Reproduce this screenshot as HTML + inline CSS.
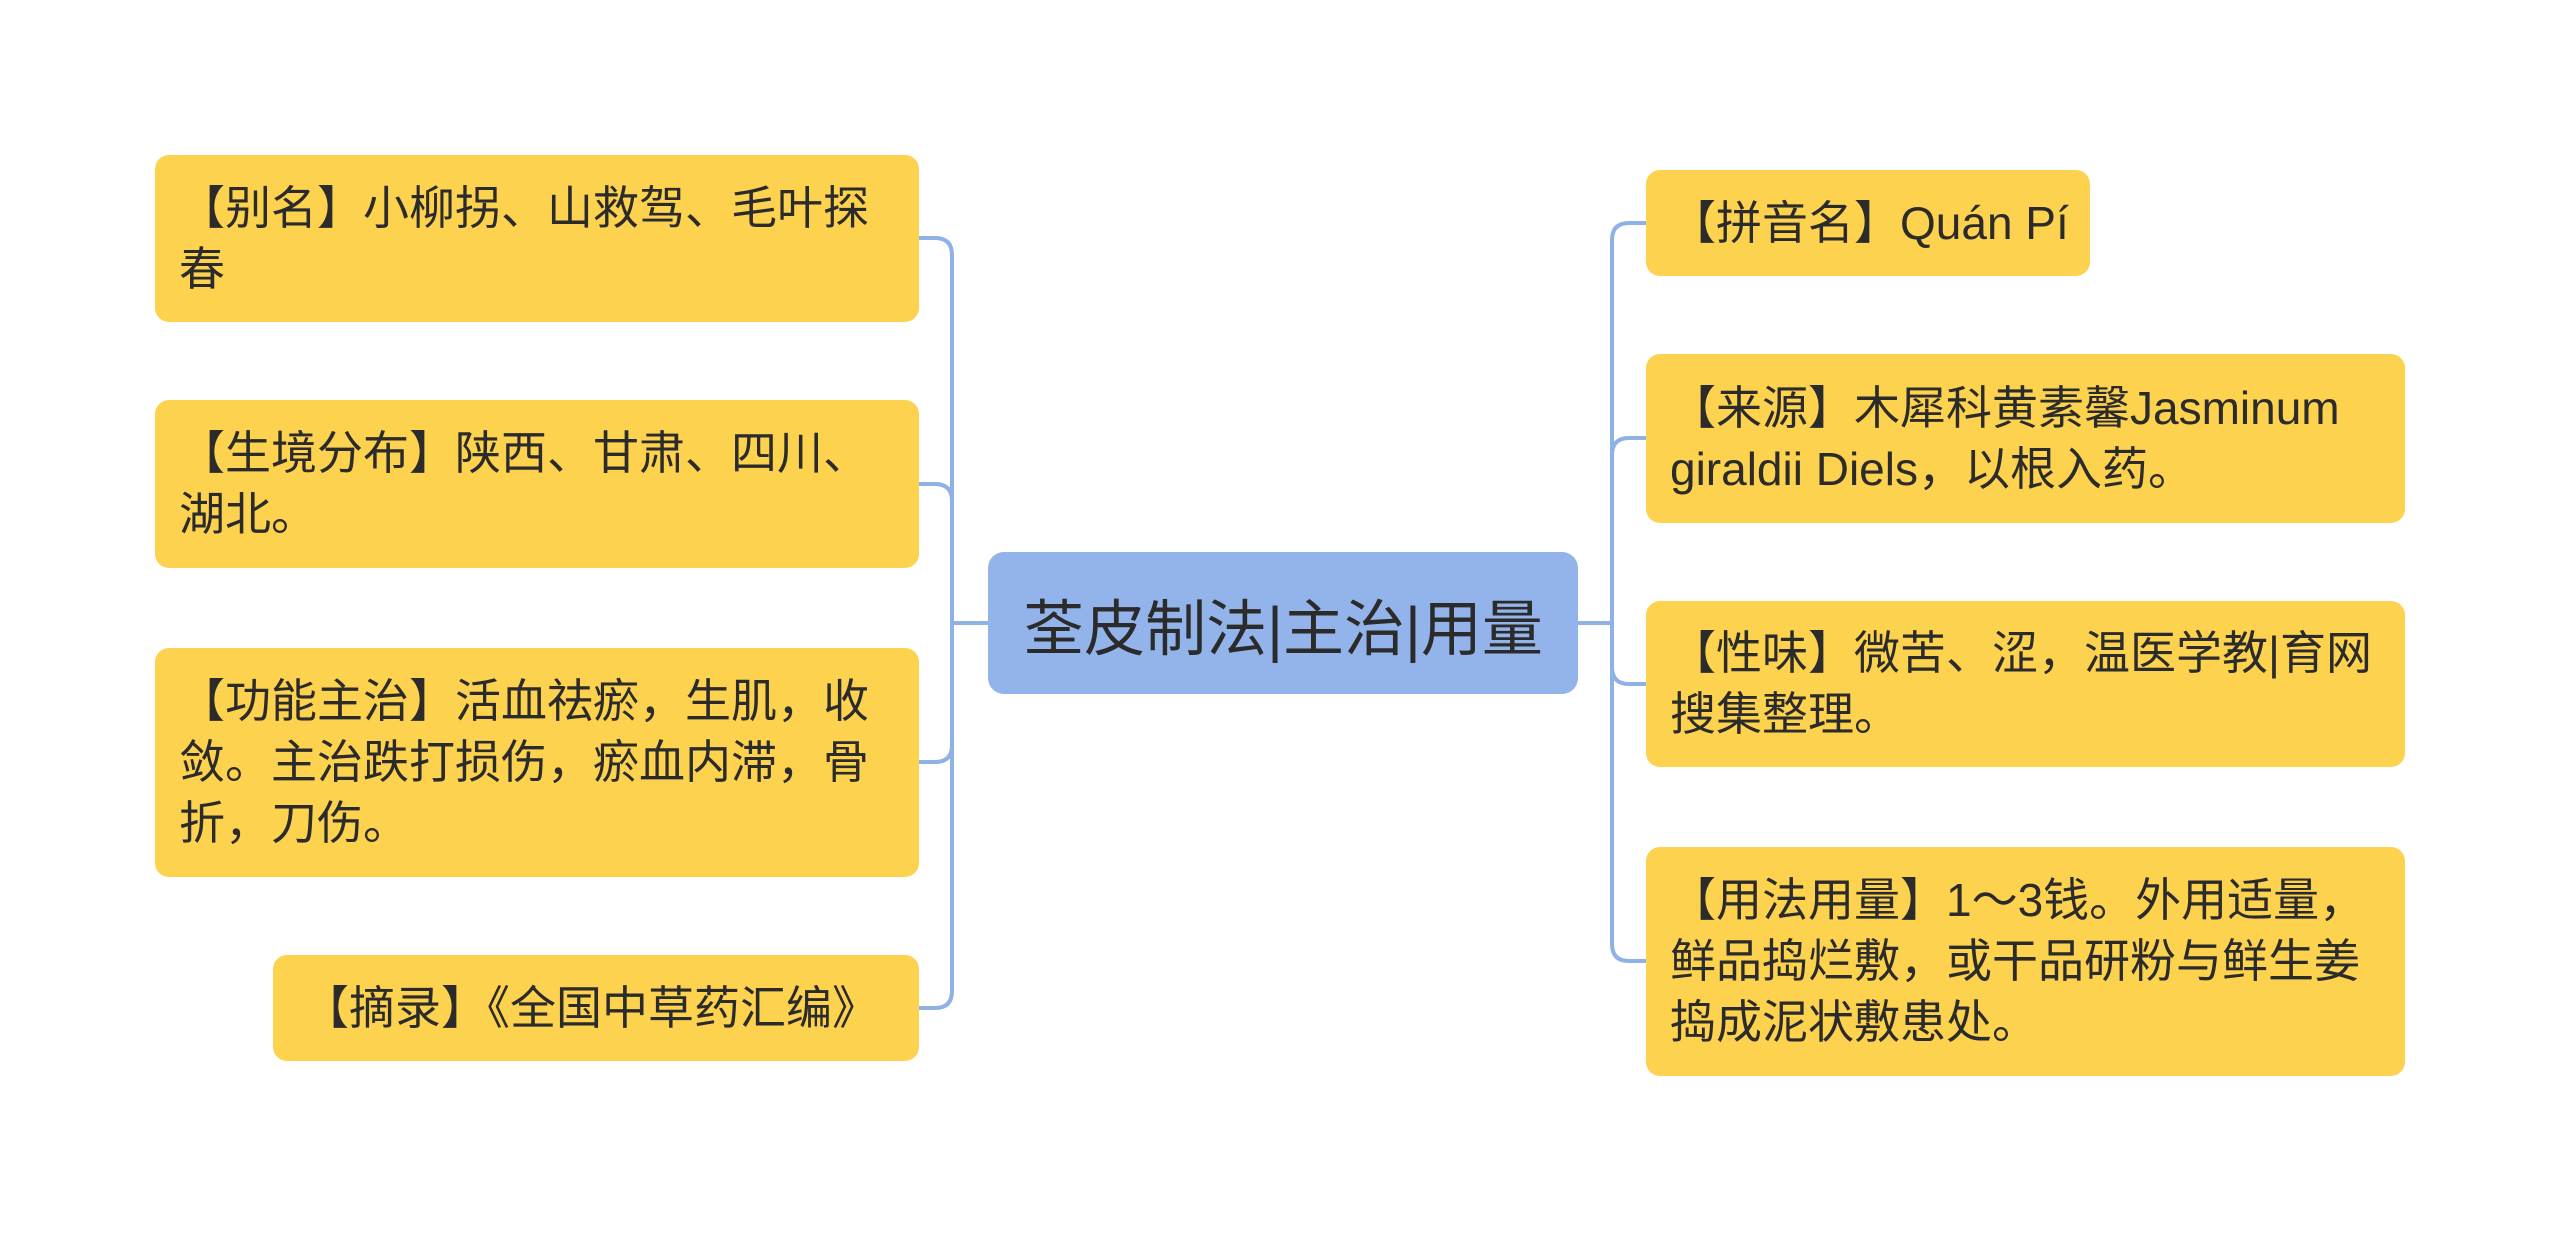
<!DOCTYPE html>
<html><head><meta charset="utf-8"><style>
html,body{margin:0;padding:0;background:#fff;}
body{width:2560px;height:1233px;position:relative;overflow:hidden;font-family:"Liberation Sans","Noto Sans CJK SC",sans-serif;color:#2b2b2b;}
.n{position:absolute;background:#fdd24f;border-radius:14px;box-sizing:border-box;padding:0 10px 0 24px;font-size:46px;line-height:61px;display:flex;align-items:center;white-space:nowrap;}
.c{position:absolute;background:#93b4ea;border-radius:16px;font-size:61px;display:flex;align-items:center;justify-content:center;color:#2b2b2b;}
svg{position:absolute;left:0;top:0;}
</style></head><body>
<svg width="2560" height="1233"><g fill="none" stroke="#8fb2e6" stroke-width="4">
<path d="M988 623 H952"/>
<path d="M919 238 H935 Q952 238 952 255 V991 Q952 1008 935 1008 H919"/>
<path d="M919 484 H935 Q952 484 952 501 V745 Q952 762 935 762 H919"/>
<path d="M1578 623 H1612"/>
<path d="M1646 223 H1629 Q1612 223 1612 240 V944 Q1612 961 1629 961 H1646"/>
<path d="M1646 438 H1629 Q1612 438 1612 455 V667 Q1612 684 1629 684 H1646"/>
</g></svg>
<div class="n" style="left:155px;top:155px;width:764px;height:167px;"><div>【别名】小柳拐、山救驾、毛叶探<br>春</div></div>
<div class="n" style="left:155px;top:400px;width:764px;height:168px;"><div>【生境分布】陕西、甘肃、四川、<br>湖北。</div></div>
<div class="n" style="left:155px;top:648px;width:764px;height:229px;"><div>【功能主治】活血祛瘀，生肌，收<br>敛。主治跌打损伤，瘀血内滞，骨<br>折，刀伤。</div></div>
<div class="n" style="left:273px;top:955px;width:646px;height:106px;padding-left:30px;">【摘录】《全国中草药汇编》</div>
<div class="c" style="left:988px;top:552px;width:590px;height:142px;">荃皮制法|主治|用量</div>
<div class="n" style="left:1646px;top:170px;width:444px;height:106px;">【拼音名】Quán Pí</div>
<div class="n" style="left:1646px;top:354px;width:759px;height:169px;"><div>【来源】木犀科黄素馨Jasminum<br>giraldii Diels，以根入药。</div></div>
<div class="n" style="left:1646px;top:601px;width:759px;height:166px;"><div>【性味】微苦、涩，温医学教|育网<br>搜集整理。</div></div>
<div class="n" style="left:1646px;top:847px;width:759px;height:229px;"><div>【用法用量】1～3钱。外用适量，<br>鲜品捣烂敷，或干品研粉与鲜生姜<br>捣成泥状敷患处。</div></div>
</body></html>
